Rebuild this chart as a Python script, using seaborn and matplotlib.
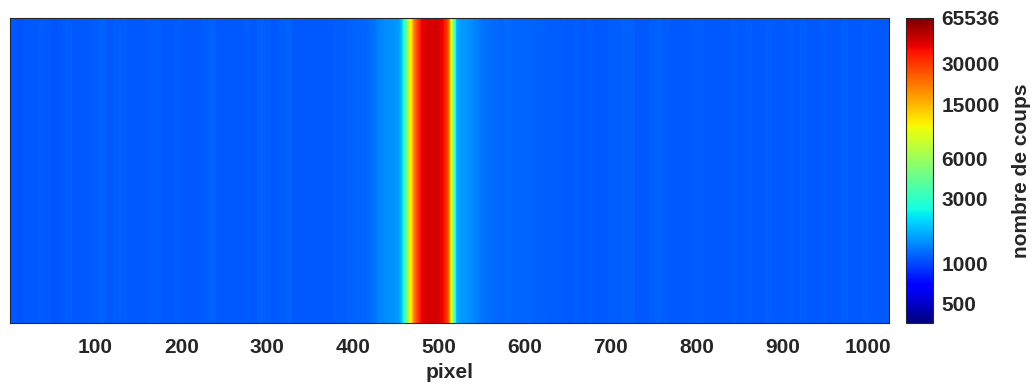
import numpy as np
import pandas as pd
import matplotlib
matplotlib.use('Agg')
import matplotlib.pyplot as plt
from matplotlib.colors import LogNorm
import seaborn as sns

# background counts, one value per block of 8 pixels (1024 pixels in total)
bg_block = 8
bg_counts = [
    1090, 1075, 1095, 1080, 1110, 1090, 1075, 1100, 1120, 1090, 1080, 1095, 1110, 1125, 1095, 1105,
    1110, 1090, 1100, 1095, 1120, 1105, 1090, 1100, 1110, 1095, 1090, 1100, 1105, 1125, 1100, 1095,
    1100, 1095, 1110, 1090, 1125, 1120, 1100, 1105, 1130, 1100, 1090, 1080, 1095, 1090, 1100, 1110,
    1120, 1140, 1160, 1170, 1200, 1200, 1200, 1200, 1200, 1200, 1200, 1200, 1200, 1200, 1200, 1200,
    1200, 1200, 1200, 1200, 1200, 1200, 1200, 1200, 1190, 1170, 1160, 1150, 1140, 1130, 1120, 1110,
    1105, 1100, 1110, 1095, 1120, 1100, 1095, 1105, 1110, 1125, 1130, 1100, 1090, 1110, 1125, 1120,
    1095, 1100, 1090, 1105, 1120, 1095, 1100, 1090, 1095, 1105, 1100, 1110, 1095, 1090, 1105, 1100,
    1095, 1105, 1100, 1120, 1090, 1095, 1110, 1100, 1090, 1105, 1095, 1100, 1110, 1090, 1095, 1100,
]

# peak region, one value per pixel, starting at pixel 417
peak_first_pixel = 417
peak_counts = [
    1180, 1190, 1200, 1200, 1210, 1220, 1230, 1240, 1250, 1260,
    1280, 1300, 1320, 1340, 1360, 1370, 1380, 1390, 1400, 1400,
    1410, 1410, 1420, 1420, 1430, 1430, 1440, 1440, 1450, 1450,
    1460, 1470, 1480, 1490, 1500, 1500, 1540, 1600, 1700, 1800,
    1900, 2150, 2500, 2950, 3500, 4200, 5000, 6000, 7200, 8600,
    10200, 12000, 14000, 16200, 18600, 21000, 23500, 26000, 28500, 31000,
    33000, 35500, 37500, 39000, 40300, 41300, 42100, 42700, 43200, 43500,
    43700, 43900, 44000, 44100, 44100, 44100, 44100, 44000, 44000, 43900,
    43800, 43600, 43300, 43000, 42500, 41800, 41000, 40000, 38800, 37300,
    36000, 34000, 31500, 28000, 24000, 19500, 15500, 12000, 9300, 7000,
    5000, 3700, 2800, 2200, 1850, 1680, 1600, 1560, 1550, 1540,
    1530, 1520, 1510, 1500, 1490, 1480, 1470, 1460, 1450, 1440,
    1430, 1420, 1410, 1400, 1390, 1370, 1350, 1330, 1310, 1300,
    1290, 1280, 1270, 1260, 1250, 1250, 1240, 1230, 1230, 1220,
    1220, 1210, 1210, 1200, 1200, 1200, 1190, 1190, 1190, 1180,
    1180, 1180, 1180, 1170, 1170, 1170, 1170, 1160, 1160, 1160,
]

n_rows = 40
x_ticks = [100, 200, 300, 400, 500, 600, 700, 800, 900, 1000]
cbar_ticks = [500, 1000, 3000, 6000, 15000, 30000, 65536]
vmin, vmax = 360, 65536

TXT = '#262626'

sns.set_style('white')
plt.rcParams['font.family'] = ['Liberation Sans', 'DejaVu Sans']
plt.rcParams['font.weight'] = 'bold'

# one profile, repeated over all rows of the image
profile = np.repeat(np.array(bg_counts, dtype=float), bg_block)
start = peak_first_pixel - 1
profile[start:start + len(peak_counts)] = peak_counts
df = pd.DataFrame(np.tile(profile, (n_rows, 1)),
                  columns=np.arange(1, len(profile) + 1))

fig = plt.figure(figsize=(10.35, 3.87), dpi=100)
ax = fig.add_axes([0.0097, 0.1654, 0.8493, 0.7881])
cax = fig.add_axes([0.8754, 0.1654, 0.026, 0.7881])

sns.heatmap(df, ax=ax, cbar_ax=cax, cmap='jet', norm=LogNorm(vmin=vmin, vmax=vmax),
            xticklabels=False, yticklabels=False)

ax.set_xticks(np.array(x_ticks) - 0.5)
ax.set_xticklabels([str(t) for t in x_ticks], fontsize=15, fontweight='bold', color=TXT)
ax.tick_params(axis='x', direction='in', length=6.5, width=0.8, color=TXT,
               top=True, bottom=True, pad=11)
ax.set_yticks([])
ax.set_xlabel('pixel', fontsize=15, fontweight='bold', color=TXT, labelpad=4)
for sp in ax.spines.values():
    sp.set_visible(True)
    sp.set_linewidth(0.8)
    sp.set_color(TXT)

cb = ax.collections[0].colorbar
cb.set_ticks(cbar_ticks)
cb.set_ticklabels([str(t) for t in cbar_ticks])
cb.outline.set_linewidth(0.8)
cb.outline.set_edgecolor(TXT)
cb.ax.tick_params(which='major', direction='in', length=5, width=0.8, color=TXT,
                  labelsize=15, labelcolor=TXT, pad=6)
cb.ax.tick_params(which='minor', direction='in', length=3, width=0.6, color=TXT)
for lab in cb.ax.get_yticklabels():
    lab.set_fontweight('bold')
cb.set_label('nombre de coups', fontsize=15, fontweight='bold', color=TXT, labelpad=9)

fig.savefig('out.png', dpi=100)
